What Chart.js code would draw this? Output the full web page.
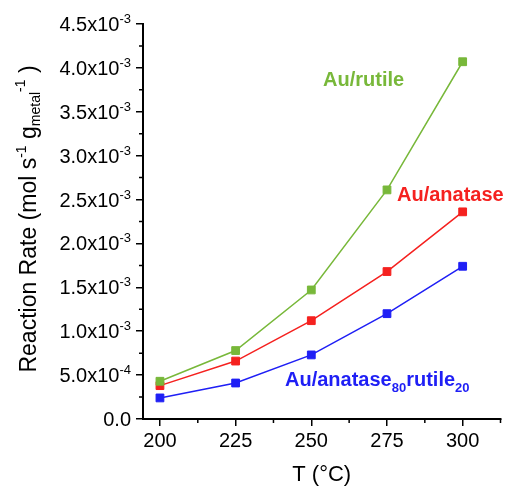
<!DOCTYPE html>
<html>
<head>
<meta charset="utf-8">
<script src="https://cdn.jsdelivr.net/npm/chart.js@4.4.1/dist/chart.umd.min.js"></script>
<style>
  html, body { margin: 0; padding: 0; background: #fff; }
</style>
</head>
<body>
<canvas id="grafica" width="507" height="486"></canvas>
<script>
// datos
const temperaturas = [200, 225, 250, 275, 300];
const rutilo = [0.00043, 0.00078, 0.00147, 0.00261, 0.00407];
const anatasa = [0.00038, 0.00066, 0.00112, 0.00168, 0.00236];
const mezcla = [0.00024, 0.00041, 0.00073, 0.00120, 0.00174];

const ticksX = [200, 225, 250, 275, 300];
const ticksY = [0, 0.0005, 0.001, 0.0015, 0.002, 0.0025, 0.003, 0.0035, 0.004, 0.0045];
const ticksYTexto = ['0.0', '5.0x10', '1.0x10', '1.5x10', '2.0x10', '2.5x10', '3.0x10', '3.5x10', '4.0x10', '4.5x10'];
const ticksYExp = ['', '-4', '-3', '-3', '-3', '-3', '-3', '-3', '-3', '-3'];

const VERDE = '#78b83a';
const ROJO = '#f5211f';
const AZUL = '#1f1ff5';
const FUENTE = "'Liberation Sans', Arial, sans-serif";

function puntos(valores) {
    return temperaturas.map((t, i) => ({ x: t, y: valores[i] }));
}

function serie(valores, color) {
    return {
        data: puntos(valores),
        borderColor: color,
        backgroundColor: color,
        borderWidth: 1.5,
        pointStyle: 'rect',
        pointRadius: 5.5,
        pointBorderWidth: 1,
        pointBorderColor: color,
        pointBackgroundColor: color
    };
}

// dibuja texto con partes en superindice / subindice
function textoCompuesto(ctx, partes, x, y, alinear) {
    let total = 0;
    partes.forEach(p => { ctx.font = p.font; total += ctx.measureText(p.t).width; });
    let cx = alinear === 'right' ? x - total : (alinear === 'center' ? x - total / 2 : x);
    ctx.textAlign = 'left';
    partes.forEach(p => {
        ctx.font = p.font;
        ctx.fillText(p.t, cx, y + (p.dy || 0));
        cx += ctx.measureText(p.t).width;
    });
}

const extras = {
    id: 'extras',
    afterDraw(chart) {
        const ctx = chart.ctx;
        const sx = chart.scales.x;
        const sy = chart.scales.y;
        const area = chart.chartArea;
        ctx.save();
        ctx.strokeStyle = '#000';
        ctx.lineWidth = 1.5;
        // ticks menores
        ctx.beginPath();
        for (let v = 212.5; v <= sx.max + 0.01; v += 25) {
            const px = sx.getPixelForValue(v);
            ctx.moveTo(px, area.bottom);
            ctx.lineTo(px, area.bottom + 4);
        }
        for (let v = 0.00025; v < sy.max; v += 0.0005) {
            const py = sy.getPixelForValue(v);
            ctx.moveTo(area.left, py);
            ctx.lineTo(area.left - 4, py);
        }
        ctx.stroke();

        // etiquetas del eje Y
        ctx.fillStyle = '#000';
        ticksY.forEach((v, i) => {
            const py = sy.getPixelForValue(v) + 7;
            textoCompuesto(ctx, [
                { t: ticksYTexto[i], font: '20px ' + FUENTE },
                { t: ticksYExp[i], font: '13px ' + FUENTE, dy: -8 }
            ], area.left - 12, py, 'right');
        });

        // titulo del eje Y (rotado)
        ctx.save();
        ctx.translate(36, 219);
        ctx.rotate(-Math.PI / 2);
        const f = '23px ' + FUENTE;
        const fp = '14px ' + FUENTE;
        textoCompuesto(ctx, [
            { t: 'Reaction Rate (mol s', font: f },
            { t: '-1', font: fp, dy: -10 },
            { t: ' g', font: f },
            { t: 'metal', font: fp, dy: 4 },
            { t: '-1', font: fp, dy: -11 },
            { t: ' )', font: f }
        ], 0, 0, 'center');
        ctx.restore();

        // rotulos de las series
        const fb = 'bold 20px ' + FUENTE;
        const fs = 'bold 13px ' + FUENTE;
        ctx.fillStyle = VERDE;
        textoCompuesto(ctx, [{ t: 'Au/rutile', font: fb }], 323, 86, 'left');
        ctx.fillStyle = ROJO;
        textoCompuesto(ctx, [{ t: 'Au/anatase', font: fb }], 397, 201, 'left');
        ctx.fillStyle = AZUL;
        textoCompuesto(ctx, [
            { t: 'Au/anatase', font: fb },
            { t: '80', font: fs, dy: 6 },
            { t: 'rutile', font: fb },
            { t: '20', font: fs, dy: 6 }
        ], 285, 386, 'left');
        ctx.restore();
    }
};

const ctx = document.getElementById('grafica').getContext('2d');
const chart = new Chart(ctx, {
    type: 'line',
    data: {
        datasets: [
            serie(rutilo, VERDE),
            serie(anatasa, ROJO),
            serie(mezcla, AZUL)
        ]
    },
    options: {
        responsive: false,
        animation: false,
        devicePixelRatio: 1,
        layout: { padding: { left: 0, right: 5, top: 24, bottom: 0 } },
        plugins: { legend: { display: false }, tooltip: { enabled: false } },
        scales: {
            x: {
                type: 'linear',
                min: 194.4,
                max: 312.5,
                afterBuildTicks: s => { s.ticks = ticksX.map(v => ({ value: v })); },
                afterFit: s => { s.height = 67; },
                grid: { drawOnChartArea: false, drawTicks: true, tickLength: 7, color: '#000', lineWidth: 1.5 },
                border: { display: true, color: '#000', width: 2 },
                ticks: { color: '#000', font: { size: 20, family: FUENTE }, padding: 3, maxRotation: 0 },
                title: { display: true, text: 'T (°C)', color: '#000', font: { size: 22, family: FUENTE, lineHeight: 1.0 }, padding: { top: 0, bottom: 0 } }
            },
            y: {
                min: 0,
                max: 0.0045,
                afterBuildTicks: s => { s.ticks = ticksY.map(v => ({ value: v })); },
                afterFit: s => { s.width = 143; },
                grid: { drawOnChartArea: false, drawTicks: true, tickLength: 7, color: '#000', lineWidth: 1.5 },
                border: { display: true, color: '#000', width: 2 },
                ticks: { display: false }
            }
        }
    },
    plugins: [extras]
});
</script>
</body>
</html>
